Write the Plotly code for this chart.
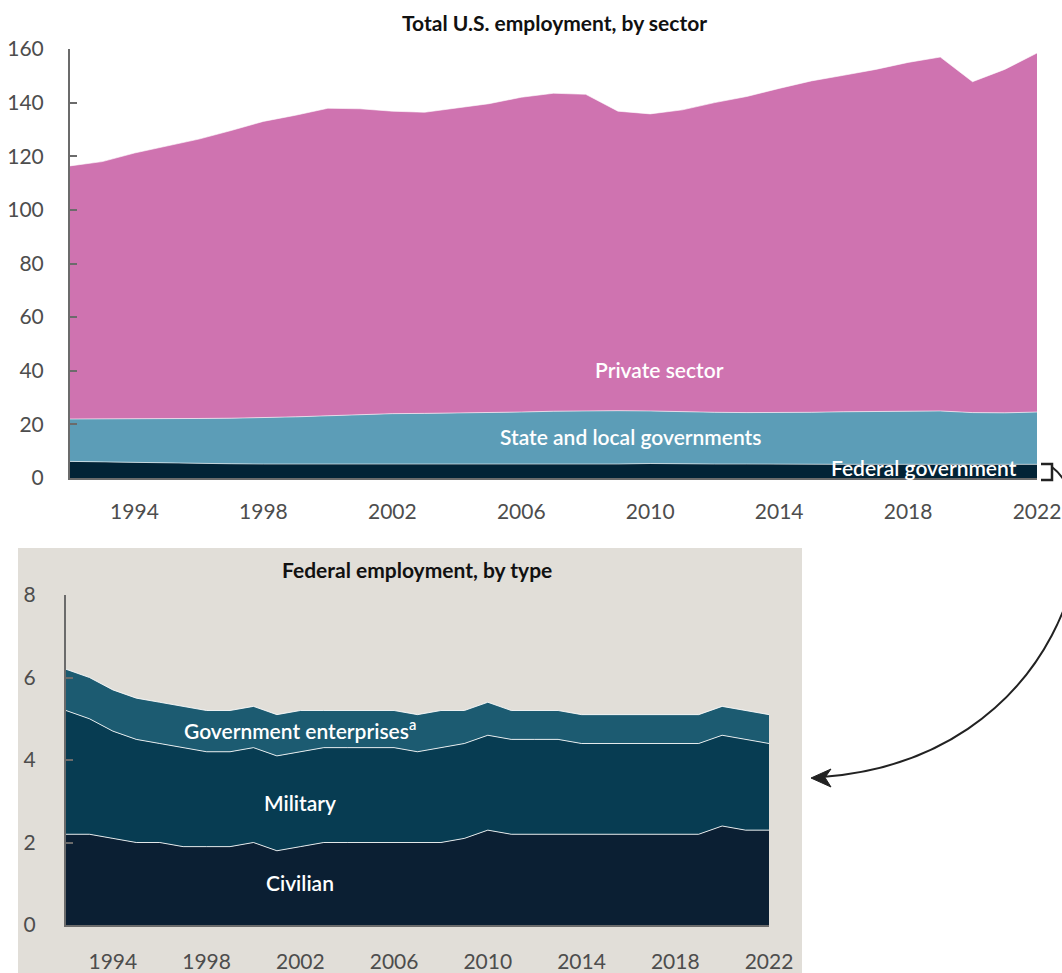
import plotly.graph_objects as go

W, H = 1062, 973

years = list(range(1992, 2023))

# Top chart: total U.S. employment by sector (millions)
federal = [6.2, 6.0, 5.7, 5.5, 5.4, 5.3, 5.2, 5.2, 5.3, 5.1, 5.2, 5.2, 5.2, 5.2, 5.2, 5.1,
           5.2, 5.2, 5.4, 5.2, 5.2, 5.2, 5.1, 5.1, 5.1, 5.1, 5.1, 5.1, 5.3, 5.2, 5.1]
state_local = [15.8, 16.0, 16.4, 16.6, 16.8, 17.0, 17.3, 17.6, 17.9, 18.5, 18.8, 18.9, 19.0, 19.2, 19.4, 19.8,
               19.9, 19.9, 19.6, 19.5, 19.3, 19.2, 19.3, 19.4, 19.6, 19.7, 19.8, 19.9, 19.1, 19.1, 19.5]
private = [94.4, 96.0, 99.1, 101.8, 104.2, 107.3, 110.5, 112.5, 114.7, 114.1, 112.8, 112.3, 113.7, 115.2, 117.4, 118.6,
           118.0, 111.7, 110.8, 112.6, 115.5, 117.9, 120.9, 123.6, 125.5, 127.6, 130.1, 132.0, 123.4, 128.1, 133.9]

# Bottom chart: federal employment by type (millions)
civilian = [2.2, 2.2, 2.1, 2.0, 2.0, 1.9, 1.9, 1.9, 2.0, 1.8, 1.9, 2.0, 2.0, 2.0, 2.0, 2.0,
            2.0, 2.1, 2.3, 2.2, 2.2, 2.2, 2.2, 2.2, 2.2, 2.2, 2.2, 2.2, 2.4, 2.3, 2.3]
military = [3.0, 2.8, 2.6, 2.5, 2.4, 2.4, 2.3, 2.3, 2.3, 2.3, 2.3, 2.3, 2.3, 2.3, 2.3, 2.2,
            2.3, 2.3, 2.3, 2.3, 2.3, 2.3, 2.2, 2.2, 2.2, 2.2, 2.2, 2.2, 2.2, 2.2, 2.1]
enterprises = [1.0, 1.0, 1.0, 1.0, 1.0, 1.0, 1.0, 1.0, 1.0, 1.0, 1.0, 0.9, 0.9, 0.9, 0.9, 0.9,
               0.9, 0.8, 0.8, 0.7, 0.7, 0.7, 0.7, 0.7, 0.7, 0.7, 0.7, 0.7, 0.7, 0.7, 0.7]

x_ticks = [1994, 1998, 2002, 2006, 2010, 2014, 2018, 2022]
top_y_ticks = [0, 20, 40, 60, 80, 100, 120, 140, 160]
bot_y_ticks = [0, 2, 4, 6, 8]


def px(x):
    return x / W


def py(y):
    return 1 - y / H


FONT = "Lato"
TICK_COLOR = "#4d4d4d"
AXIS_COLOR = "#6b6b6b"

fig = go.Figure()

top_series = [
    ("Federal government", federal, "#022336"),
    ("State and local governments", state_local, "#5C9DB7"),
    ("Private sector", private, "#CF73B0"),
]
for name, vals, col in top_series:
    fig.add_trace(go.Scatter(
        x=years, y=vals, name=name, mode="lines", stackgroup="top",
        line=dict(color="rgba(255,255,255,0.6)", width=1), fillcolor=col,
        xaxis="x", yaxis="y", showlegend=False, hoverinfo="skip"))

bot_series = [
    ("Civilian", civilian, "#0B1F33"),
    ("Military", military, "#073C52"),
    ("Government enterprises", enterprises, "#1C5B71"),
]
for name, vals, col in bot_series:
    fig.add_trace(go.Scatter(
        x=years, y=vals, name=name, mode="lines", stackgroup="bot",
        line=dict(color="rgba(255,255,255,0.85)", width=1), fillcolor=col,
        xaxis="x2", yaxis="y2", showlegend=False, hoverinfo="skip"))

axis_common = dict(showgrid=False, zeroline=False, showline=True, linecolor=AXIS_COLOR,
                   linewidth=2, automargin=False,
                   tickfont=dict(family=FONT, size=21, color=TICK_COLOR))

fig.update_layout(
    width=W, height=H,
    margin=dict(l=0, r=0, t=0, b=0, pad=0, autoexpand=False),
    paper_bgcolor="white", plot_bgcolor="rgba(0,0,0,0)",
    font=dict(family=FONT),
    xaxis=dict(domain=[px(70), px(1037)], range=[1992, 2022], tickvals=x_ticks,
               ticks="", ticklabelstandoff=14, anchor="y", **axis_common),
    yaxis=dict(domain=[py(478), py(49)], range=[0, 160], tickvals=top_y_ticks,
               ticks="inside", ticklen=7, tickwidth=2, tickcolor=AXIS_COLOR,
               ticklabelstandoff=20, anchor="x", **axis_common),
    xaxis2=dict(domain=[px(66), px(769)], range=[1992, 2022], tickvals=x_ticks,
                ticks="", ticklabelstandoff=17, anchor="y2", **axis_common),
    yaxis2=dict(domain=[py(925), py(595)], range=[0, 8], tickvals=bot_y_ticks,
                ticks="inside", ticklen=7, tickwidth=2, tickcolor=AXIS_COLOR,
                ticklabelstandoff=24, anchor="x2", **axis_common),
)

shapes = [
    # beige panel behind bottom chart
    dict(type="rect", xref="paper", yref="paper", x0=px(18), x1=px(802), y0=py(973), y1=py(548),
         fillcolor="#E1DED8", line=dict(width=0), layer="below"),
    # bracket next to federal band
    dict(type="path", xref="paper", yref="paper",
         path=f"M {px(1041)},{py(464)} L {px(1052)},{py(464)} L {px(1052)},{py(480)} L {px(1041)},{py(480)}",
         line=dict(color="#222222", width=2.5)),
    # curved arrow
    dict(type="path", xref="paper", yref="paper",
         path=(f"M {px(1052)},{py(467)} C {px(1120)},{py(520)} {px(1060)},{py(760)} {px(822)},{py(777)}"),
         line=dict(color="#222222", width=2)),
    # arrowhead
    dict(type="path", xref="paper", yref="paper",
         path=(f"M {px(811)},{py(778)} L {px(831)},{py(769)} L {px(825)},{py(777.5)} "
               f"L {px(831)},{py(787)} Z"),
         fillcolor="#222222", line=dict(color="#222222", width=1)),
]
fig.update_layout(shapes=shapes)

label_font = dict(family=FONT, size=21, color="white", weight=600)
title_font = dict(family=FONT, size=21, color="#111111")
annotations = [
    dict(text="<b>Total U.S. employment, by sector</b>", xref="paper", yref="paper",
         x=px(554), y=py(22), showarrow=False, font=title_font),
    dict(text="<b>Federal employment, by type</b>", xref="paper", yref="paper",
         x=px(417), y=py(569), showarrow=False, font=title_font),
    dict(text="Private sector", xref="x", yref="y", x=2010.3, y=40.3, showarrow=False, font=label_font),
    dict(text="State and local governments", xref="x", yref="y", x=2009.4, y=15.3, showarrow=False,
         font=label_font),
    dict(text="Federal government", xref="x", yref="y", x=2018.5, y=4.1, showarrow=False, font=label_font),
    dict(text="Government enterprises<sup>a</sup>", xref="x2", yref="y2", x=2002.0, y=4.75,
         showarrow=False, font=label_font),
    dict(text="Military", xref="x2", yref="y2", x=2002.0, y=2.98, showarrow=False, font=label_font),
    dict(text="Civilian", xref="x2", yref="y2", x=2002.0, y=1.04, showarrow=False, font=label_font),
]
for a in annotations:
    a["xanchor"] = "center"
    a["yanchor"] = "middle"
fig.update_layout(annotations=annotations)

fig.write_html("out.html", config={"displayModeBar": False},
               post_script="document.body.style.margin='0';")
